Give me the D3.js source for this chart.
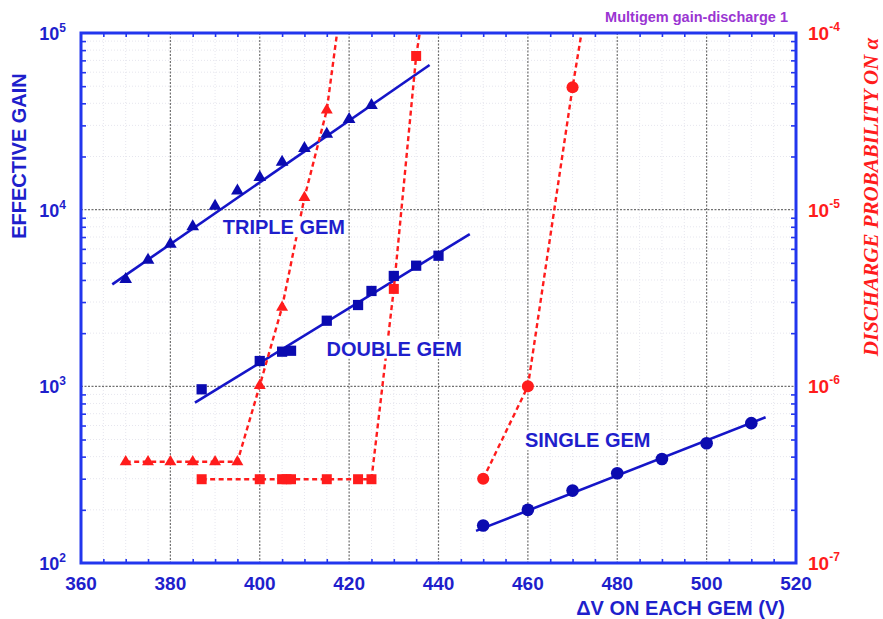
<!DOCTYPE html>
<html><head><meta charset="utf-8">
<script src="https://cdn.jsdelivr.net/npm/d3@7"></script>
<style>body{margin:0;background:#fff}svg{display:block}</style>
</head><body>
<svg id="chart" width="883" height="619"></svg>
<script>
// ---- data ----
const xTicks = [360,380,400,420,440,460,480,500,520];
const gainTicksExp = [2,3,4,5];
const probTicksExp = [-7,-6,-5,-4];

const tripleV    = [370,375,380,385,390,395,400,405,410,415,420,425];
const tripleGain = [4030,5190,6390,8010,10490,12800,15250,18610,22270,26800,32500,38970];
const doubleV    = [387,400,405,407,415,422,425,430,435,440];
const doubleGain = [962,1391,1571,1590,2352,2886,3466,4214,4818,5486];
const singleV    = [450,460,470,480,490,500,510];
const singleGain = [163,200,257,322,388,476,619];

const fitTripleV = [367,438],     fitTripleGain = [3780,65900];
const fitDoubleV = [385.5,447],   fitDoubleGain = [808,7280];
const fitSingleV = [448.4,513.2], fitSingleGain = [152,668];

const dischTripleV = [370,375,380,385,390,395,400,405,410,415];
const dischTripleP = [3.74e-7,3.74e-7,3.74e-7,3.74e-7,3.74e-7,3.74e-7,1.01e-6,2.8e-6,1.17e-5,3.66e-5];
const dischDoubleV = [387,400,405,406,407,415,422,425,430,435];
const dischDoubleP = [2.98e-7,2.98e-7,2.98e-7,2.98e-7,2.98e-7,2.98e-7,2.98e-7,2.98e-7,3.56e-6,7.41e-5];
const dischSingleV = [450,460,470];
const dischSingleP = [3.0e-7,1.0e-6,4.93e-5];
// where each dashed discharge trend leaves the frame (at 1e-4)
const trendTopV = {triple:417.3, double:435.8, single:472};

const labelTexts = ["TRIPLE GEM","DOUBLE GEM","SINGLE GEM"];
const labelV = [405.4,430.1,473.4];
const labelGain = [7980,1641,497];

// ---- layout ----
const svg = d3.select("#chart");
const L=81, R=796, T=33, B=563;
const x = d3.scaleLinear().domain([360,520]).range([L,R]);
const yG = d3.scaleLog().domain([100,1e5]).range([B,T]);
const yP = d3.scaleLog().domain([1e-7,1e-4]).range([B,T]);

const BLUE_AX = "#2236ee", BLUE = "#1515c8", BLUE_MK = "#0b0bb0", RED = "#ff1c1c", TXT = "#1f1fcc";
const SANS = "'Liberation Sans', Arial, sans-serif";

// minor grid
const minorV = d3.range(360,521,5).filter(v=>v%20!==0);
const minorG = [];
[100,1000,10000].forEach(d=>{for(let k=2;k<=9;k++) minorG.push(d*k);});
const g0 = svg.append("g");
g0.selectAll("line.mv").data(minorV).join("line")
  .attr("x1",d=>x(d)).attr("x2",d=>x(d)).attr("y1",T).attr("y2",B)
  .attr("stroke","#e6e6ee").attr("stroke-width",1).attr("stroke-dasharray","1,2");
g0.selectAll("line.mh").data(minorG).join("line")
  .attr("x1",L).attr("x2",R).attr("y1",d=>yG(d)).attr("y2",d=>yG(d))
  .attr("stroke","#e6e6ee").attr("stroke-width",1).attr("stroke-dasharray","1,2");
// major grid
g0.selectAll("line.gv").data(xTicks.slice(1,-1)).join("line")
  .attr("x1",d=>x(d)).attr("x2",d=>x(d)).attr("y1",T).attr("y2",B)
  .attr("stroke","#707070").attr("stroke-width",1.2).attr("stroke-dasharray","2,1.5");
g0.selectAll("line.gh").data([3,4]).join("line")
  .attr("x1",L).attr("x2",R).attr("y1",d=>yG(Math.pow(10,d))).attr("y2",d=>yG(Math.pow(10,d)))
  .attr("stroke","#707070").attr("stroke-width",1.2).attr("stroke-dasharray","2,1.5");

// clip
svg.append("clipPath").attr("id","clip").append("rect").attr("x",L).attr("y",T).attr("width",R-L).attr("height",B-T);
const plot = svg.append("g").attr("clip-path","url(#clip)");

// fit lines
const lineG = d3.line().x(d=>x(d[0])).y(d=>yG(d[1]));
[[fitTripleV,fitTripleGain],[fitDoubleV,fitDoubleGain],[fitSingleV,fitSingleGain]].forEach(([vs,gs])=>{
  plot.append("path").datum(vs.map((v,i)=>[v,gs[i]])).attr("d",lineG)
    .attr("fill","none").attr("stroke",BLUE).attr("stroke-width",2.6);
});

// discharge dashed curves
const lineP = d3.line().x(d=>x(d[0])).y(d=>yP(d[1]));
[[dischTripleV,dischTripleP,trendTopV.triple],[dischDoubleV,dischDoubleP,trendTopV.double],[dischSingleV,dischSingleP,trendTopV.single]].forEach(([vs,ps,top])=>{
  const pts = vs.map((v,i)=>[v,ps[i]]).concat([[top,1e-4]]);
  plot.append("path").datum(pts).attr("d",lineP)
    .attr("fill","none").attr("stroke",RED).attr("stroke-width",2.4).attr("stroke-dasharray","5,3.5");
});

// labels with white box
labelTexts.forEach((t,i)=>{
  const g = svg.append("g");
  const tx = g.append("text").attr("x",x(labelV[i])).attr("y",yG(labelGain[i])).attr("text-anchor","middle")
    .attr("dy","0.36em").attr("font-family",SANS).attr("font-weight","bold").attr("font-size",20)
    .attr("fill",TXT).text(t);
  const bb = tx.node().getBBox();
  g.insert("rect","text").attr("x",bb.x-3).attr("y",bb.y+1).attr("width",bb.width+6).attr("height",bb.height-2).attr("fill","#fff");
});

// markers
const sym = (type,size)=>d3.symbol().type(type).size(size)();
function markers(vs,vals,scale,type,size,color){
  plot.append("g").selectAll("path").data(vs.map((v,i)=>[v,vals[i]])).join("path")
    .attr("transform",d=>`translate(${x(d[0])},${scale(d[1])})`)
    .attr("d",sym(type,size)).attr("fill",color);
}
markers(tripleV,tripleGain,yG,d3.symbolTriangle,70,BLUE_MK);
markers(doubleV,doubleGain,yG,d3.symbolSquare,105,BLUE_MK);
markers(singleV,singleGain,yG,d3.symbolCircle,125,BLUE_MK);
markers(dischTripleV,dischTripleP,yP,d3.symbolTriangle,62,RED);
markers(dischDoubleV,dischDoubleP,yP,d3.symbolSquare,100,RED);
markers(dischSingleV,dischSingleP,yP,d3.symbolCircle,115,RED);

// ticks
const tickStyle = g=>{g.select(".domain").remove(); g.selectAll("line").attr("stroke",BLUE_AX).attr("stroke-width",1.6);};
svg.append("g").attr("transform",`translate(0,${B})`).call(d3.axisBottom(x).tickValues(minorV).tickSize(-4).tickFormat("")).call(tickStyle);
svg.append("g").attr("transform",`translate(0,${T})`).call(d3.axisTop(x).tickValues(minorV).tickSize(-4).tickFormat("")).call(tickStyle);
svg.append("g").attr("transform",`translate(${L},0)`).call(d3.axisLeft(yG).tickValues(minorG).tickSize(-5).tickFormat("")).call(tickStyle);
svg.append("g").attr("transform",`translate(${R},0)`).call(d3.axisRight(yG).tickValues(minorG).tickSize(-5).tickFormat("")).call(tickStyle);

// frame
svg.append("rect").attr("x",L).attr("y",T).attr("width",R-L).attr("height",B-T)
  .attr("fill","none").attr("stroke",BLUE_AX).attr("stroke-width",3);

// x tick labels
svg.append("g").selectAll("text").data(xTicks).join("text")
  .attr("x",d=>x(d)).attr("y",B+27).attr("text-anchor","middle")
  .attr("font-family",SANS).attr("font-weight","bold").attr("font-size",19).attr("fill",TXT).text(d=>d);

// left log labels
const lg = svg.append("g").selectAll("text").data(gainTicksExp).join("text")
  .attr("x",66).attr("y",d=>yG(Math.pow(10,d))+7).attr("text-anchor","end")
  .attr("font-family",SANS).attr("font-weight","bold").attr("fill",TXT);
lg.append("tspan").attr("font-size",18).text("10");
lg.append("tspan").attr("font-size",12).attr("dy",-8).text(d=>d);

// right log labels
const rg = svg.append("g").selectAll("text").data(probTicksExp).join("text")
  .attr("x",808).attr("y",d=>yP(Math.pow(10,d))+7)
  .attr("font-family",SANS).attr("font-weight","bold").attr("fill",RED);
rg.append("tspan").attr("font-size",19).text("10");
rg.append("tspan").attr("font-size",12).attr("dy",-9).text(d=>d);

// axis titles
svg.append("text").attr("transform","translate(26,156) rotate(-90)").attr("text-anchor","middle")
  .attr("font-family",SANS).attr("font-weight","bold").attr("font-size",20).attr("fill",TXT).text("EFFECTIVE GAIN");
svg.append("text").attr("x",785).attr("y",615).attr("text-anchor","end")
  .attr("font-family",SANS).attr("font-weight","bold").attr("font-size",20).attr("fill",TXT).text("\u0394V ON EACH GEM (V)");
svg.append("text").attr("transform","translate(878,197) rotate(-90)").attr("text-anchor","middle")
  .attr("font-family","'Liberation Serif','Times New Roman',serif").attr("font-weight","bold").attr("font-style","italic")
  .attr("font-size",21).attr("fill",RED).text("DISCHARGE PROBABILITY ON \u03b1");
svg.append("text").attr("x",788).attr("y",22).attr("text-anchor","end")
  .attr("font-family",SANS).attr("font-weight","bold").attr("font-size",14.5).attr("fill","#9a35d2").text("Multigem gain-discharge 1");
</script>
</body></html>
